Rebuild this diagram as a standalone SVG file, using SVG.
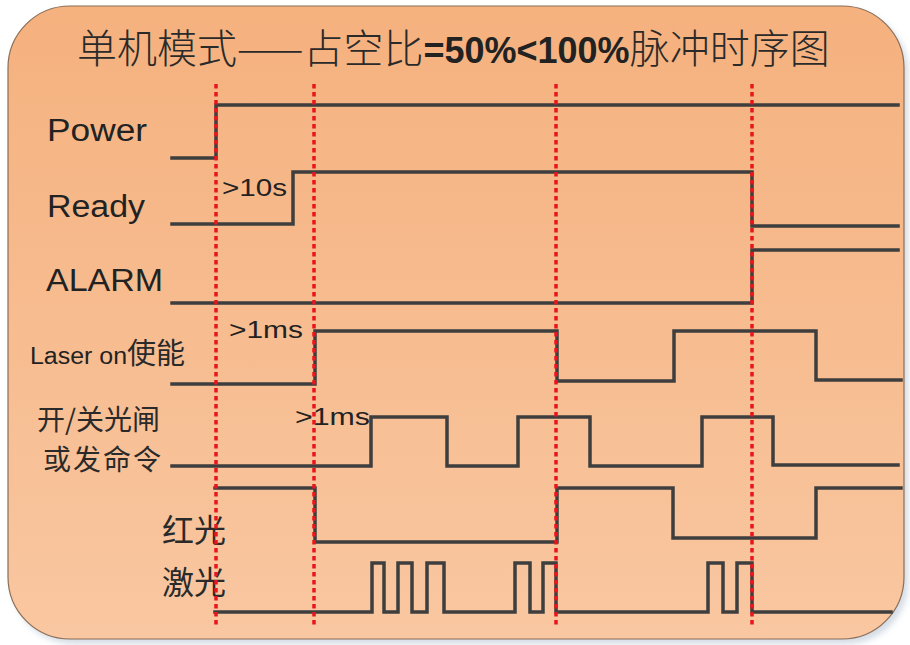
<svg xmlns="http://www.w3.org/2000/svg" width="910" height="645" viewBox="0 0 910 645">
<defs>
<linearGradient id="bg" x1="0" y1="0" x2="0" y2="1">
<stop offset="0" stop-color="#F5B17E"/>
<stop offset="1" stop-color="#F9C7A1"/>
</linearGradient>
<filter id="sh" x="-5%" y="-5%" width="115%" height="115%">
<feGaussianBlur stdDeviation="3"/>
</filter>
</defs>
<style>
.sig{fill:none;stroke:#3E3E3E;stroke-width:3.5;stroke-linejoin:miter;stroke-linecap:square}
.mark{fill:none;stroke:#E8161C;stroke-width:3.5;stroke-dasharray:4.5 3.5}
.lat{font-family:"Liberation Sans","Noto Sans CJK SC",sans-serif;fill:#222}
.cjk{font-family:"Noto Sans CJK SC",sans-serif;fill:#2a2a2a}
</style>
<rect x="12" y="10" width="896" height="634" rx="62" fill="#C9D3DE" opacity="0.8" filter="url(#sh)"/>
<rect x="8" y="6" width="896" height="633" rx="62" fill="url(#bg)" stroke="#8C6D55" stroke-width="1.2"/>
<g id="title">
<text x="77" y="63" class="cjk" font-size="40" font-weight="300" fill="#333">单机模式——占空比<tspan class="lat" font-size="36" font-weight="bold" fill="#1a1a1a">=50%&lt;100%</tspan>脉冲时序图</text>
</g>
<g id="labels">
<text x="47" y="141" class="lat" font-size="31" textLength="100" lengthAdjust="spacingAndGlyphs">Power</text>
<text x="47" y="217" class="lat" font-size="31" textLength="98" lengthAdjust="spacingAndGlyphs">Ready</text>
<text x="46" y="291" class="lat" font-size="31" textLength="117" lengthAdjust="spacingAndGlyphs">ALARM</text>
<text x="30" y="364" class="lat" font-size="23"><tspan textLength="97" lengthAdjust="spacingAndGlyphs">Laser on</tspan><tspan class="cjk" font-size="29">使能</tspan></text>
<text x="37" y="430" class="cjk" font-size="28">开/关光闸</text>
<text x="43" y="470" class="cjk" font-size="28" letter-spacing="2">或发命令</text>
<text x="162" y="542" class="cjk" font-size="32">红光</text>
<text x="162" y="594" class="cjk" font-size="32">激光</text>
<text x="222" y="196" class="lat" font-size="24" textLength="65" lengthAdjust="spacingAndGlyphs">&gt;10s</text>
<text x="229" y="338" class="lat" font-size="23" textLength="74" lengthAdjust="spacingAndGlyphs">&gt;1ms</text>
<text x="295" y="425" class="lat" font-size="23" textLength="75" lengthAdjust="spacingAndGlyphs">&gt;1ms</text>
</g>
<g id="power"><path class="sig" d="M172,158 H216 V105 H898"/></g>
<g id="ready"><path class="sig" d="M172,224 H293 V172 H752 V226 H898"/></g>
<g id="alarm"><path class="sig" d="M172,303 H752 V250 H898"/></g>
<g id="laser-on"><path class="sig" d="M172,384 H315 V331 H557 V381 H674 V331 H816 V380 H901"/></g>
<g id="shutter"><path class="sig" d="M172,466 H371 V417 H447 V466 H518 V417 H590 V466 H702 V417 H773 V465 H898"/></g>
<g id="red-light"><path class="sig" d="M215,488 H315 V542 H557 V488 H673 V538 H816 V488 H901"/></g>
<g id="laser"><path class="sig" d="M215,612 H372 V563 H384 V612 H398 V563 H412 V612 H427 V563 H444 V612 H515 V563 H530 V612 H543 V563 H556 V612 H708 V563 H723 V612 H737 V563 H752 V612 H891"/></g>
<g id="connectors">
<line class="mark" x1="216" y1="84" x2="216" y2="628"/>
<line class="mark" x1="314" y1="84" x2="314" y2="628"/>
<line class="mark" x1="556" y1="84" x2="556" y2="628"/>
<line class="mark" x1="752" y1="84" x2="752" y2="628"/>
</g>
</svg>
